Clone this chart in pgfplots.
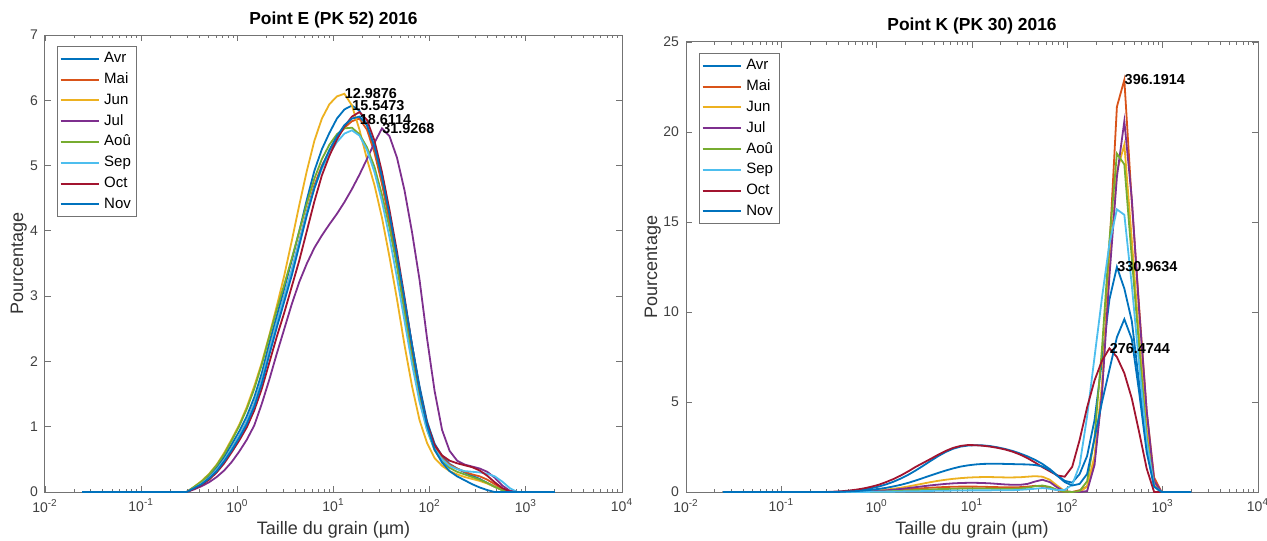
\documentclass[border=0pt]{standalone}
\usepackage{fontspec}
\setmainfont{Liberation Sans}
\usepackage{pgfplots}
\usepackage{pgfplotstable}
\pgfplotsset{compat=1.18}
\definecolor{c1}{rgb}{0,0.447,0.741}
\definecolor{c2}{rgb}{0.850,0.325,0.098}
\definecolor{c3}{rgb}{0.929,0.694,0.125}
\definecolor{c4}{rgb}{0.494,0.184,0.556}
\definecolor{c5}{rgb}{0.466,0.674,0.188}
\definecolor{c6}{rgb}{0.301,0.745,0.933}
\definecolor{c7}{rgb}{0.635,0.078,0.184}
\definecolor{axgray}{gray}{0.45}

% Point E (PK 52)
\pgfplotstableread{
x Avr Mai Jun Jul Aou Sep Oct Nov
0.0243 0 0 0 0 0 0 0 0
0.2971 0 0 0 0 0 0 0 0
0.3557 0.07 0.06 0.08 0.04 0.08 0.06 0.05 0.06
0.4258 0.15 0.13 0.17 0.09 0.16 0.13 0.11 0.12
0.5097 0.25 0.22 0.28 0.15 0.27 0.22 0.19 0.21
0.6101 0.38 0.34 0.42 0.23 0.41 0.34 0.30 0.32
0.7304 0.54 0.49 0.60 0.33 0.58 0.49 0.44 0.47
0.8743 0.73 0.67 0.81 0.46 0.79 0.67 0.61 0.64
1.047 0.93 0.86 1.03 0.62 1.01 0.86 0.79 0.83
1.253 1.16 1.08 1.30 0.80 1.27 1.08 0.99 1.04
1.500 1.45 1.36 1.62 1.02 1.58 1.36 1.25 1.31
1.795 1.82 1.72 1.98 1.35 1.95 1.72 1.58 1.66
2.149 2.28 2.18 2.40 1.72 2.38 2.17 1.98 2.10
2.573 2.70 2.60 2.85 2.12 2.80 2.60 2.38 2.52
3.080 3.12 3.00 3.32 2.50 3.18 3.00 2.75 2.92
3.687 3.55 3.40 3.85 2.88 3.58 3.40 3.15 3.32
4.414 4.00 3.85 4.40 3.22 4.00 3.84 3.55 3.78
5.284 4.48 4.30 4.92 3.50 4.42 4.28 4.00 4.24
6.325 4.92 4.70 5.38 3.74 4.80 4.66 4.45 4.65
7.572 5.25 5.00 5.72 3.93 5.10 4.95 4.85 4.98
9.064 5.50 5.22 5.94 4.10 5.32 5.18 5.15 5.24
10.85 5.72 5.42 6.06 4.26 5.48 5.36 5.40 5.45
12.99 5.86 5.58 6.10 4.44 5.57 5.49 5.60 5.62
15.55 5.92 5.68 5.92 4.64 5.58 5.54 5.75 5.72
18.61 5.84 5.72 5.55 4.86 5.48 5.46 5.82 5.75
22.28 5.62 5.55 5.10 5.10 5.28 5.24 5.70 5.62
26.67 5.25 5.20 4.70 5.35 4.98 4.90 5.38 5.30
31.93 4.75 4.72 4.20 5.57 4.55 4.45 4.90 4.82
38.22 4.18 4.15 3.60 5.45 4.05 3.90 4.32 4.25
45.75 3.58 3.52 2.95 5.12 3.45 3.28 3.68 3.62
54.77 2.92 2.85 2.25 4.62 2.75 2.62 2.98 2.95
65.56 2.25 2.15 1.62 3.98 2.05 1.96 2.25 2.25
78.48 1.62 1.50 1.10 3.25 1.42 1.38 1.58 1.58
93.95 1.08 1.00 0.75 2.35 0.95 0.95 1.05 1.02
112.47 0.74 0.70 0.52 1.55 0.64 0.66 0.72 0.65
134.64 0.55 0.52 0.40 0.95 0.47 0.50 0.56 0.45
161.17 0.43 0.42 0.32 0.63 0.37 0.40 0.48 0.32
192.93 0.36 0.36 0.27 0.48 0.31 0.35 0.44 0.24
230.96 0.30 0.31 0.23 0.42 0.27 0.32 0.41 0.18
276.47 0.25 0.27 0.20 0.39 0.23 0.31 0.38 0.12
330.96 0.20 0.24 0.17 0.36 0.19 0.30 0.33 0.07
396.19 0.14 0.19 0.13 0.31 0.14 0.28 0.25 0.03
474.28 0.08 0.12 0.08 0.22 0.08 0.24 0.15 0
567.77 0.03 0.05 0.03 0.10 0.03 0.16 0.06 0
679.68 0 0.01 0 0.02 0 0.06 0.01 0
813.65 0 0 0 0 0 0 0 0
2000 0 0 0 0 0 0 0 0
}\tableE

% Point K (PK 30)
\pgfplotstableread{
x Avr Mai Jun Jul Aou Sep Oct Nov
0.0243 0 0 0 0 0 0 0 0
0.2971 0 0 0 0 0 0 0 0
0.3557 0 0 0 0 0 0 0.02 0
0.4258 0.02 0 0 0 0 0 0.04 0.01
0.5097 0.05 0 0.01 0 0 0 0.08 0.03
0.6101 0.09 0 0.02 0.01 0 0 0.13 0.05
0.7304 0.14 0.01 0.04 0.02 0 0 0.20 0.08
0.8743 0.21 0.02 0.06 0.04 0.01 0.01 0.29 0.12
1.047 0.30 0.04 0.09 0.06 0.02 0.01 0.40 0.17
1.253 0.42 0.06 0.13 0.09 0.03 0.02 0.55 0.23
1.500 0.57 0.09 0.18 0.13 0.05 0.02 0.72 0.31
1.795 0.75 0.12 0.24 0.17 0.06 0.03 0.92 0.40
2.149 0.96 0.15 0.31 0.22 0.09 0.04 1.15 0.51
2.573 1.20 0.18 0.39 0.27 0.11 0.04 1.40 0.64
3.080 1.46 0.21 0.47 0.32 0.13 0.05 1.62 0.78
3.687 1.73 0.24 0.55 0.37 0.14 0.06 1.84 0.92
4.414 1.99 0.26 0.62 0.41 0.16 0.07 2.07 1.06
5.284 2.22 0.28 0.68 0.45 0.17 0.07 2.28 1.19
6.325 2.40 0.29 0.73 0.48 0.18 0.08 2.45 1.31
7.572 2.52 0.30 0.77 0.50 0.19 0.08 2.56 1.41
9.064 2.58 0.30 0.80 0.51 0.19 0.09 2.61 1.48
10.85 2.60 0.30 0.82 0.51 0.19 0.09 2.60 1.53
12.99 2.59 0.29 0.83 0.50 0.19 0.09 2.57 1.56
15.55 2.55 0.28 0.83 0.48 0.19 0.09 2.52 1.57
18.61 2.48 0.27 0.82 0.45 0.18 0.10 2.45 1.57
22.28 2.39 0.26 0.81 0.42 0.18 0.10 2.36 1.56
26.67 2.28 0.26 0.81 0.40 0.18 0.10 2.24 1.55
31.93 2.14 0.27 0.82 0.40 0.20 0.12 2.08 1.54
38.22 1.98 0.30 0.85 0.45 0.24 0.15 1.88 1.53
45.75 1.79 0.34 0.88 0.58 0.32 0.18 1.64 1.50
54.77 1.56 0.33 0.85 0.68 0.36 0.22 1.38 1.42
65.56 1.27 0.24 0.68 0.55 0.28 0.18 1.15 1.22
78.48 0.92 0.10 0.35 0.25 0.12 0.10 0.92 0.90
93.95 0.62 0.01 0.05 0.03 0.02 0.12 0.85 0.55
112.47 0.52 0 0 0 0 0.40 1.40 0.36
134.64 1.00 0.10 0 0 0.05 1.50 2.90 0.45
161.17 2.00 0.30 0.30 0.05 0.60 4.20 4.70 1.00
192.93 4.00 1.80 2.00 1.50 3.00 7.50 6.20 3.00
230.96 7.30 5.50 6.00 5.50 8.00 10.80 7.30 5.00
276.47 10.70 13.50 12.50 12.00 14.00 13.80 7.98 6.80
330.96 12.50 21.40 17.80 17.50 18.80 15.70 7.50 8.60
396.19 11.30 22.90 19.30 20.60 18.20 15.40 6.60 9.60
474.28 9.50 16.10 14.00 16.30 13.00 11.50 5.20 8.50
567.77 6.00 10.20 8.50 10.00 8.00 7.00 3.30 5.50
679.68 2.50 4.50 3.50 4.50 3.00 2.80 1.30 2.20
813.65 0.30 0.80 0.50 0.60 0.30 0.30 0 0.30
974.02 0 0 0 0 0 0 0 0
2000 0 0 0 0 0 0 0 0
}\tableK

\pgfplotsset{
  psd/.style={
    scale only axis,
    xmin=0.01, xmax=10000, ymin=0,
    xtick={0.01,0.1,1,10,100,1000,10000},
    xticklabels={10\textsuperscript{-2},10\textsuperscript{-1},10\textsuperscript{0},10\textsuperscript{1},10\textsuperscript{2},10\textsuperscript{3},10\textsuperscript{4}},
    minor xtick={0.02,0.03,0.04,0.05,0.06,0.07,0.08,0.09,0.2,0.3,0.4,0.5,0.6,0.7,0.8,0.9,2,3,4,5,6,7,8,9,20,30,40,50,60,70,80,90,200,300,400,500,600,700,800,900,2000,3000,4000,5000,6000,7000,8000,9000},
    axis line style={draw=axgray, line width=0.5pt},
    every tick/.style={axgray, line width=0.4pt},
    major tick length=2.8pt, minor tick length=1.6pt,
    tick align=inside,
    /pgf/number format/assume math mode=true,
    tick label style={font=\fontsize{7}{8}\selectfont, text=black!75},
    xlabel={Taille du grain (µm)},
    ylabel={Pourcentage},
    label style={font=\fontsize{9}{10}\selectfont, text=black!80},
    xlabel style={at={(axis description cs:0.5,0)}, anchor=base, yshift=-21pt},
    title style={font=\bfseries\fontsize{8.7}{10}\selectfont, at={(axis description cs:0.5,1)}, anchor=base, yshift=-0.5pt},
    legend style={draw=axgray, fill=white, font=\fontsize{7.5}{9}\selectfont,
      anchor=north west, row sep=0pt, inner sep=1pt,
      nodes={text height=5.6pt, text depth=1.6pt, inner ysep=1.6pt}},
    legend cell align=left,
    legend image code/.code={\draw[#1, line width=1pt] (0cm,0cm) -- (0.68cm,0cm);},
    cycle list={{c1,line width=0.9pt},{c2,line width=0.9pt},{c3,line width=0.9pt},{c4,line width=0.9pt},{c5,line width=0.9pt},{c6,line width=0.9pt},{c7,line width=0.9pt},{c1,line width=0.9pt}},
    every axis plot/.append style={mark=none},
  },
}
\tikzset{peak/.style={anchor=west, inner sep=0pt, font=\bfseries\fontsize{7.2}{8}\selectfont, text=black}}

\begin{document}
\begin{tikzpicture}[x=1pt,y=1pt]
\path[use as bounding box] (0,0) rectangle (633.5,270);
\begin{axis}[xmode=log, psd, at={(22.5pt,24pt)}, anchor=south west,
  width=288.5pt, height=228.5pt, ymax=7, ytick={0,1,2,3,4,5,6,7},
  title={Point E (PK 52) 2016},
  ylabel style={at={(axis description cs:-0.038,0.5)}, anchor=base},
  legend style={at={(0.021,0.976)}}]
\addplot table[x=x,y=Avr]{\tableE};
\addplot table[x=x,y=Mai]{\tableE};
\addplot table[x=x,y=Jun]{\tableE};
\addplot table[x=x,y=Jul]{\tableE};
\addplot table[x=x,y=Aou]{\tableE};
\addplot table[x=x,y=Sep]{\tableE};
\addplot table[x=x,y=Oct]{\tableE};
\addplot table[x=x,y=Nov]{\tableE};
\legend{Avr,Mai,Jun,Jul,Aoû,Sep,Oct,Nov}
\node[peak] at (axis cs:12.9876,6.10) {12.9876};
\node[peak] at (axis cs:15.5473,5.92) {15.5473};
\node[peak] at (axis cs:18.6114,5.71) {18.6114};
\node[peak] at (axis cs:31.9268,5.56) {31.9268};
\end{axis}
\begin{axis}[xmode=log, psd, at={(343pt,24pt)}, anchor=south west,
  width=286pt, height=225pt, ymax=25, ytick={0,5,10,15,20,25},
  title={Point K (PK 30) 2016},
  ylabel style={at={(axis description cs:-0.0507,0.5)}, anchor=base},
  legend style={at={(0.023,0.9755)}}]
\addplot table[x=x,y=Avr]{\tableK};
\addplot table[x=x,y=Mai]{\tableK};
\addplot table[x=x,y=Jun]{\tableK};
\addplot table[x=x,y=Jul]{\tableK};
\addplot table[x=x,y=Aou]{\tableK};
\addplot table[x=x,y=Sep]{\tableK};
\addplot table[x=x,y=Oct]{\tableK};
\addplot table[x=x,y=Nov]{\tableK};
\legend{Avr,Mai,Jun,Jul,Aoû,Sep,Oct,Nov}
\node[peak] at (axis cs:396.1914,22.9) {396.1914};
\node[peak] at (axis cs:330.9634,12.5) {330.9634};
\node[peak] at (axis cs:276.4744,7.98) {276.4744};
\end{axis}
\end{tikzpicture}
\end{document}
